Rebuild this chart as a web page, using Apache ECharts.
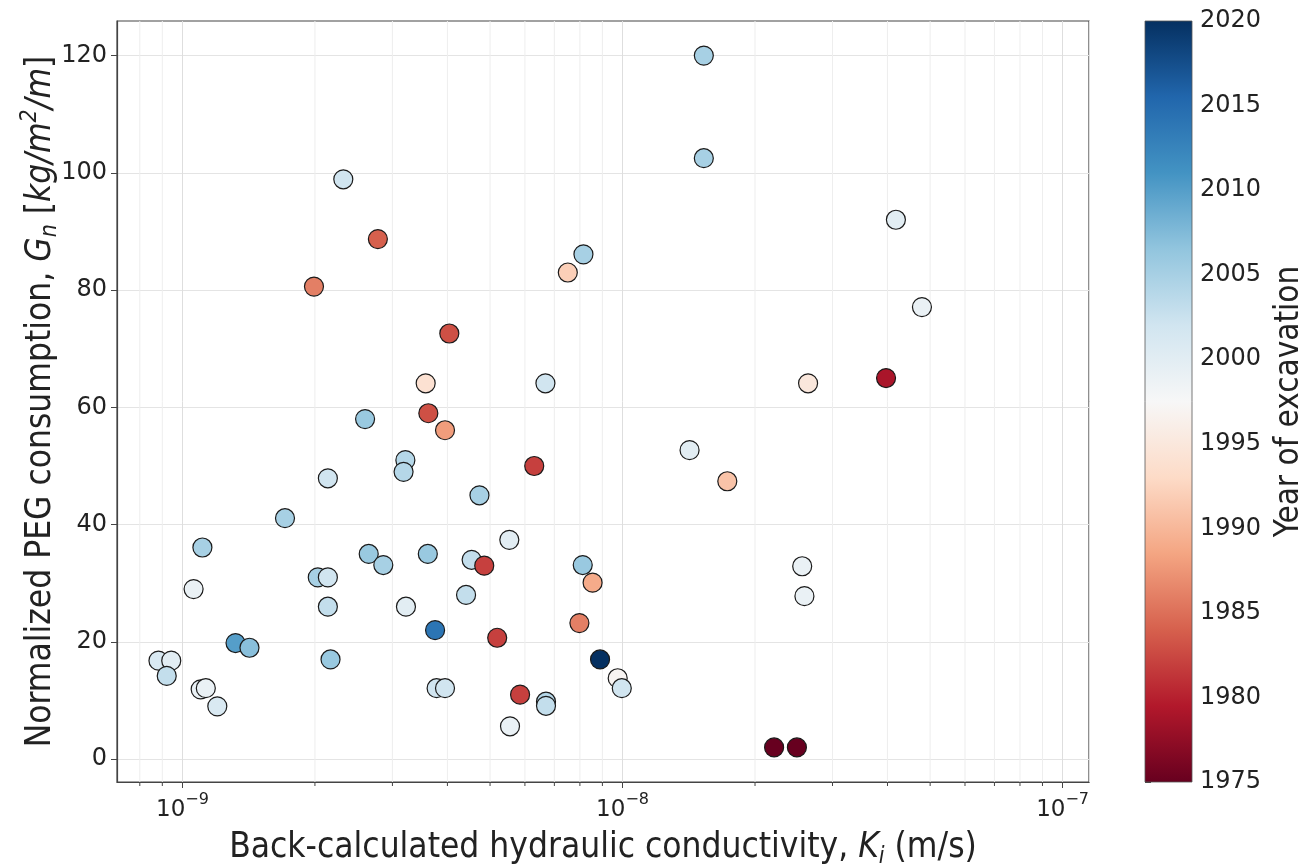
<!DOCTYPE html>
<html>
<head>
<meta charset="utf-8">
<title>PEG consumption vs hydraulic conductivity</title>
<script src="https://cdn.jsdelivr.net/npm/echarts@6/dist/echarts.min.js"></script>
<style>
  html, body { margin: 0; padding: 0; background: #fff; }
  #chart { width: 1309px; height: 867px; }
</style>
</head>
<body>
<div id="chart"></div>
<script>
// back-calculated hydraulic conductivity K_i (m/s)
const conductivity = [
  2.32e-9, 2.78e-9, 1.99e-9, 3.57e-9, 1.53e-8, 1.53e-8, 8.15e-9, 7.51e-9, 4.04e-9, 6.68e-9,
  4.18e-8, 4.79e-8, 2.64e-8, 3.97e-8, 2.60e-9, 3.62e-9, 3.21e-9, 3.18e-9, 2.14e-9, 1.71e-9,
  1.11e-9, 2.65e-9, 2.86e-9, 3.61e-9, 2.03e-9, 2.14e-9, 1.06e-9, 2.14e-9, 3.22e-9, 3.75e-9,
  1.32e-9, 1.42e-9, 2.17e-9, 8.82e-10, 9.43e-10, 9.21e-10, 1.10e-9, 1.13e-9, 1.20e-9, 3.78e-9,
  3.95e-9, 3.95e-9, 6.30e-9, 4.73e-9, 5.53e-9, 4.54e-9, 4.85e-9, 4.41e-9, 5.19e-9, 5.85e-9,
  6.70e-9, 6.70e-9, 5.55e-9, 8.12e-9, 8.55e-9, 7.98e-9, 8.89e-9, 9.75e-9, 9.96e-9, 1.42e-8,
  1.73e-8, 2.21e-8, 2.49e-8, 2.56e-8, 2.59e-8
]
// normalized PEG consumption G_n (kg/m2/m)
const pegConsumption = [
  98.9, 88.7, 80.6, 64.1, 120.0, 102.5, 86.1, 83.0, 72.6, 64.1,
  92.0, 77.1, 64.1, 65.0, 58.0, 59.0, 51.0, 49.0, 47.9, 41.1,
  36.1, 35.0, 33.1, 35.0, 31.0, 31.0, 29.0, 26.0, 26.0, 22.0,
  19.8, 19.0, 17.0, 16.8, 16.8, 14.2, 11.9, 12.1, 9.0, 12.1,
  12.1, 56.1, 50.0, 45.0, 37.4, 34.0, 33.0, 28.0, 20.7, 11.0,
  9.8, 9.1, 5.6, 33.1, 30.1, 23.2, 17.0, 13.8, 12.1, 52.7,
  47.4, 2.0, 2.0, 32.9, 27.8
]
const excavationYear = [
  2002, 1984, 1986, 1994, 2005, 2005, 2005, 1992, 1983, 2002,
  2000, 1999, 1995, 1979, 2006, 1983, 2004, 2004, 2002, 2005,
  2005, 2006, 2005, 2006, 2005, 2002, 1999, 2003, 2000, 2014,
  2010, 2007, 2006, 2001, 2000, 2003, 1999, 1999, 2001, 2002,
  2002, 1988, 1982, 2005, 2000, 2003, 1982, 2003, 1982, 1982,
  2004, 2003, 1999, 2006, 1989, 1986, 2020, 1997, 2002, 2000,
  1991, 1975, 1975, 1999, 1999
]

// tick values
const yTicks = [0, 20, 40, 60, 80, 100, 120]
const yearTicks = [1975, 1980, 1985, 1990, 1995, 2000, 2005, 2010, 2015, 2020]
// minor ticks of the log axis (2..9 x 10^n)
const xMinorTicks = [
  8e-10, 9e-10,
  2e-9, 3e-9, 4e-9, 5e-9, 6e-9, 7e-9, 8e-9, 9e-9,
  2e-8, 3e-8, 4e-8, 5e-8, 6e-8, 7e-8, 8e-8, 9e-8
]

// matplotlib RdBu
const rdbu = ['#67001f', '#b2182b', '#d6604d', '#f4a582', '#fddbc7', '#f7f7f7',
  '#d1e5f0', '#92c5de', '#4393c3', '#2166ac', '#053061']

const X_MIN = 7.1e-10, X_MAX = 1.148e-7
const Y_MIN = -3.9, Y_MAX = 125.9
const YEAR_MIN = 1975, YEAR_MAX = 2020

const tickFont = 'DejaVu Sans'
const nameFont = '"DejaVu Sans Condensed", "Liberation Sans Narrow", "DejaVu Sans"'
const ink = '#222'

const chart = echarts.init(document.getElementById('chart'), null, { renderer: 'canvas' })

const points = conductivity.map((k, i) => [k, pegConsumption[i], excavationYear[i]])

// rich styles for axis titles
function nameRich(size) {
  const small = Math.round(size * 0.66)
  return {
    n: { fontFamily: nameFont, fontSize: size, color: ink, lineHeight: size + 8 },
    i: { fontFamily: nameFont, fontSize: size, fontStyle: 'italic', color: ink, lineHeight: size + 8 },
    sub: { fontFamily: nameFont, fontSize: small, fontStyle: 'italic', color: ink, lineHeight: size + 8, verticalAlign: 'bottom' },
    sup: { fontFamily: nameFont, fontSize: small, fontStyle: 'italic', color: ink, lineHeight: size + 8, verticalAlign: 'top' }
  }
}

const option = {
  backgroundColor: '#fff',
  animation: false,
  grid: [
    {
      left: 117, top: 21, width: 972, height: 761, outerBoundsMode: 'none',
      show: true, borderColor: '#444', borderWidth: 1.2, backgroundColor: 'transparent'
    },
    { left: 1145, top: 21, width: 47, height: 761, outerBoundsMode: 'none' }
  ],
  xAxis: [
    {
      type: 'log', gridIndex: 0, logBase: 10, min: X_MIN, max: X_MAX,
      name: '{n|Back-calculated hydraulic conductivity, }{i|K}{sub|i}{n| (m/s)}',
      nameLocation: 'middle', nameGap: 44, nameMoveOverlap: false,
      nameTextStyle: { rich: nameRich(35) },
      axisLine: { show: true, onZero: false, lineStyle: { color: '#444', width: 1.2 } },
      axisTick: { show: true, length: 6, lineStyle: { color: '#444' } },
      axisLabel: {
        margin: 10, showMinLabel: false, showMaxLabel: false,
        formatter: (v) => {
          const e = Math.log10(v)
          if (Math.abs(e - Math.round(e)) > 1e-6) return ''
          return '{b|10}{s|\u2212' + Math.abs(Math.round(e)) + '}'
        },
        rich: {
          b: { fontFamily: tickFont, fontSize: 23, color: ink, lineHeight: 30, verticalAlign: 'bottom' },
          s: { fontFamily: tickFont, fontSize: 16, color: ink, lineHeight: 30, verticalAlign: 'top' }
        }
      },
      splitLine: { show: true, lineStyle: { color: '#dedede', width: 1 } }
    },
    {
      type: 'value', gridIndex: 1, min: 0, max: 1, show: false
    }
  ],
  yAxis: [
    {
      type: 'value', gridIndex: 0, min: Y_MIN, max: Y_MAX,
      name: '{n|Normalized PEG consumption, }{i|G}{sub|n}{n| [}{i|kg/m}{sup|2}{i|/m}{n|]}',
      nameLocation: 'middle', nameGap: 55, nameRotate: 90, nameMoveOverlap: false,
      nameTextStyle: { rich: nameRich(35) },
      axisLine: { show: true, lineStyle: { color: '#444', width: 1.2 } },
      axisTick: { show: true, length: 6, customValues: yTicks, lineStyle: { color: '#444' } },
      axisLabel: {
        fontFamily: tickFont, fontSize: 24, color: ink, margin: 10,
        customValues: yTicks
      },
      splitLine: { show: true, lineStyle: { color: '#e4e4e4', width: 1 } }
    },
    {
      type: 'value', gridIndex: 1, position: 'right',
      min: YEAR_MIN, max: YEAR_MAX,
      name: 'Year of excavation', nameLocation: 'middle', nameGap: 81, nameRotate: 90, nameMoveOverlap: false,
      nameTextStyle: { fontFamily: nameFont, fontSize: 33, color: ink },
      axisLine: { show: false },
      axisTick: { show: true, length: 6, customValues: yearTicks, lineStyle: { color: '#444' } },
      axisLabel: {
        fontFamily: tickFont, fontSize: 24, color: ink, margin: 8,
        customValues: yearTicks,
        formatter: (v) => String(v)
      },
      splitLine: { show: false }
    }
  ],
  visualMap: {
    type: 'continuous', show: false, seriesIndex: 0, dimension: 2,
    min: YEAR_MIN, max: YEAR_MAX,
    inRange: { color: rdbu }
  },
  series: [
    {
      type: 'scatter', xAxisIndex: 0, yAxisIndex: 0, z: 3,
      symbolSize: 19,
      data: points,
      itemStyle: { borderColor: '#1a1a1a', borderWidth: 1.2, opacity: 1 }
    },
    {
      // minor grid lines + ticks for the log axis
      type: 'custom', xAxisIndex: 0, yAxisIndex: 0, z: 1, silent: true,
      data: xMinorTicks.map(v => [v]),
      renderItem: (params, api) => {
        const top = api.coord([api.value(0), Y_MAX])
        const bot = api.coord([api.value(0), Y_MIN])
        return {
          type: 'group',
          children: [
            { type: 'line', shape: { x1: top[0], y1: top[1], x2: bot[0], y2: bot[1] }, style: { stroke: '#eeeeee', lineWidth: 1 } },
            { type: 'line', shape: { x1: bot[0], y1: bot[1], x2: bot[0], y2: bot[1] + 4 }, style: { stroke: '#444', lineWidth: 1 } }
          ]
        }
      }
    },
    {
      // colorbar
      type: 'custom', xAxisIndex: 1, yAxisIndex: 1, silent: true,
      data: [[0, YEAR_MIN, 1, YEAR_MAX]],
      renderItem: (params, api) => {
        const p0 = api.coord([api.value(0), api.value(1)])
        const p1 = api.coord([api.value(2), api.value(3)])
        return {
          type: 'rect',
          shape: { x: p0[0], y: p1[1], width: p1[0] - p0[0], height: p0[1] - p1[1] },
          style: {
            fill: {
              type: 'linear', x: 0, y: 1, x2: 0, y2: 0,
              colorStops: rdbu.map((c, i) => ({ offset: i / (rdbu.length - 1), color: c }))
            },
            stroke: '#555', lineWidth: 0.8
          }
        }
      }
    }
  ]
}

chart.setOption(option)
window.addEventListener('resize', () => chart.resize())
</script>
</body>
</html>
